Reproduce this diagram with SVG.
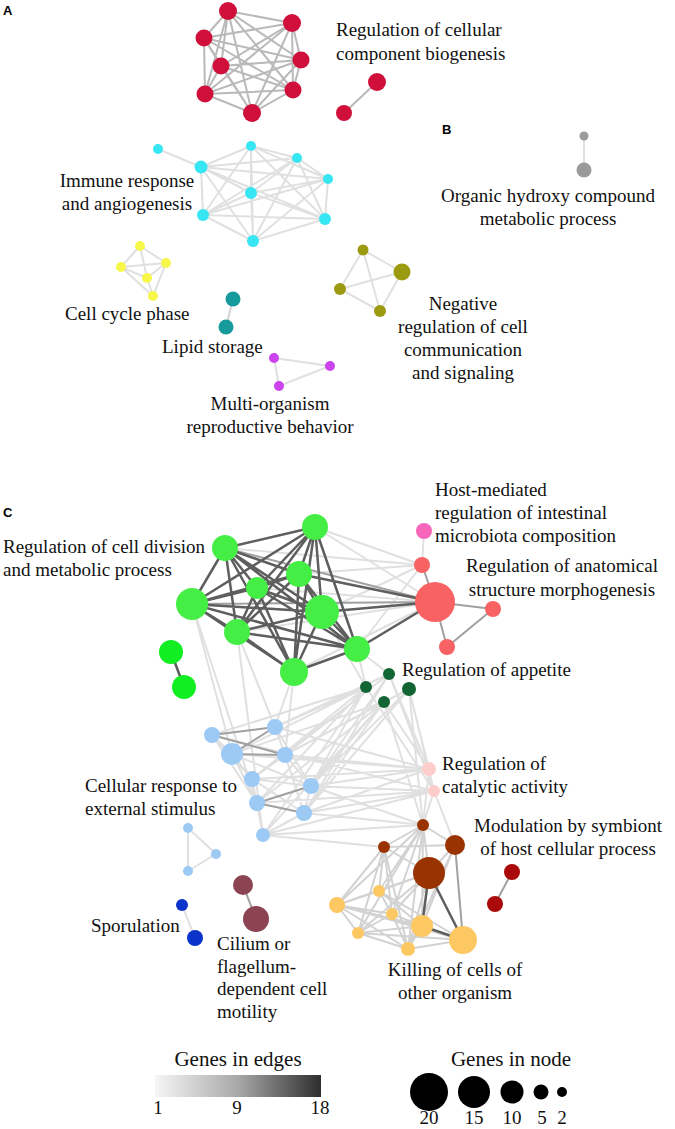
<svg xmlns="http://www.w3.org/2000/svg" width="675" height="1129" viewBox="0 0 675 1129">
<defs>
<linearGradient id="edgeGrad" x1="0" y1="0" x2="1" y2="0">
<stop offset="0" stop-color="#f6f6f6"/>
<stop offset="0.5" stop-color="#a8a8a8"/>
<stop offset="1" stop-color="#2e2e2e"/>
</linearGradient>
</defs>
<style>
.ea{stroke:#b9b9b9;stroke-width:2;fill:none}
.e1{stroke:#e0e0e0;stroke-width:2;fill:none}
.e1b{stroke:#d2d2d2;stroke-width:2;fill:none}
.e2{stroke:#a0a0a0;stroke-width:2;fill:none}
.e3{stroke:#5e5e5e;stroke-width:2.5;fill:none}
.t{font-family:"Liberation Serif","Times New Roman",serif;font-size:19px;fill:#111}
.tl{font-family:"Liberation Serif","Times New Roman",serif;font-size:21px;fill:#111}
.p{font-family:"Liberation Sans",Arial,sans-serif;font-size:13px;font-weight:bold;fill:#000}
.red{fill:#d0103a}.cyan{fill:#36e6f2}.yel{fill:#f7f74a}.teal{fill:#179a9c}.olive{fill:#9c9a10}.purp{fill:#cc44ee}.gry{fill:#9a9a9a}
.grn{fill:#44ee44}.grn2{fill:#11ee22}.pink{fill:#f766bb}.sal{fill:#f86262}.dgrn{fill:#116633}.lblu{fill:#9ccaf5}.lpink{fill:#ffcccc}
.brn{fill:#993300}.dred{fill:#aa0a0a}.ora{fill:#fdc862}.mar{fill:#8c4452}.blu{fill:#0a33cc}.blk{fill:#000}
</style>
<rect width="675" height="1129" fill="#fff"/>

<g id="connectors">
<!-- Panel A red cluster (complete) -->
<path class="ea" d="M228 11L292 23M228 11L204 38M228 11L221 66M228 11L301 60M228 11L205 94M228 11L293 90M228 11L252 113M292 23L204 38M292 23L221 66M292 23L301 60M292 23L205 94M292 23L293 90M292 23L252 113M204 38L221 66M204 38L301 60M204 38L205 94M204 38L293 90M204 38L252 113M221 66L301 60M221 66L205 94M221 66L293 90M221 66L252 113M301 60L205 94M301 60L293 90M301 60L252 113M205 94L293 90M205 94L252 113M293 90L252 113"/>
<path class="ea" d="M377 82L344 113"/>
<!-- cyan -->
<path class="e1" d="M158 149L201 167M201 167L251 146M201 167L297 158M201 167L328 179M201 167L251 193M201 167L203 215M201 167L325 219M201 167L253 241M251 146L297 158M251 146L328 179M251 146L251 193M251 146L203 215M251 146L325 219M251 146L253 241M297 158L328 179M297 158L251 193M297 158L203 215M297 158L325 219M297 158L253 241M328 179L251 193M328 179L203 215M328 179L325 219M328 179L253 241M251 193L203 215M251 193L325 219M251 193L253 241M203 215L325 219M203 215L253 241M325 219L253 241"/>
<!-- yellow -->
<path class="e1" d="M140 246L121 267M140 246L166 263M140 246L147 278M121 267L166 263M121 267L147 278M166 263L147 278M121 267L153 296M147 278L153 296M166 263L153 296"/>
<!-- teal -->
<path class="e1b" d="M233 299L226 327"/>
<!-- olive -->
<path class="e1" d="M363 250L402 272M363 250L340 289M363 250L380 311M340 289L402 272M340 289L380 311M402 272L380 311"/>
<!-- purple -->
<path class="e1" d="M274 358L330 366M274 358L279 386M279 386L330 366"/>
<!-- B gray -->
<path class="e1" d="M584 136L584 170"/>

<!-- Panel C: light edges (blue / appetite / catalytic / green links) -->
<path class="e1" d="M192 604L232 754M192 604L257 803M237 632L275 727M237 632L263 835M294 672L275 727M294 672L285 755M357 649L366 687M357 649L389 674M322 612L366 687
M212 735L366 687M275 727L389 674M275 727L366 687M232 754L366 687M232 754L384 702M285 755L389 674M285 755L384 702M285 755L409 689M252 779L366 687M252 779L389 674M311 786L389 674M311 786L366 687M311 786L384 702M311 786L409 689M257 803L384 702M257 803L366 687M304 813L389 674M304 813L384 702M304 813L409 689M263 835L366 687M263 835L384 702
M285 755L429 769M311 786L429 769M311 786L434 791M304 813L429 769M304 813L434 791M252 779L429 769M257 803L434 791M263 835L434 791M232 754L429 769M275 727L429 769M212 735L434 791
M263 835L423 825M304 813L423 825M263 835L384 847M311 786L423 825
M389 674L429 769M409 689L429 769M409 689L434 791M384 702L429 769M366 687L434 791M389 674L434 791M384 702L423 825M409 689L423 825
M434 791L423 825M429 769L423 825M434 791L455 845
M212 735L232 754M275 727L285 755M232 754L252 779M252 779L257 803M252 779L311 786M252 779L304 813M311 786L304 813M257 803L263 835M252 779L263 835M304 813L263 835M232 754L311 786M285 755L311 786M212 735L252 779M285 755L252 779M232 754L257 803M212 735L257 803M275 727L311 786M285 755L304 813
M315 527L422 565M225 548L422 565M299 574L422 565M322 612L422 565M357 649L422 565M237 632L435 602M294 672L435 602M257 588L435 602M315 527L435 602
M188 828L216 854M216 854L188 871M188 828L188 871M182 905L195 938M424 531L422 565"/>
<!-- brown / yellow cluster -->
<path class="e1b" d="M423 825L384 847M423 825L455 845M423 825L429 873M423 825L379 891M423 825L337 905M423 825L392 914M423 825L358 933M423 825L422 926M423 825L408 949M384 847L429 873M384 847L379 891M384 847L337 905M384 847L392 914M384 847L358 933M384 847L408 949M384 847L455 845M455 845L429 873M455 845L422 926M455 845L408 949M429 873L379 891M429 873L337 905M429 873L392 914M429 873L358 933M429 873L408 949M379 891L337 905M379 891L392 914M379 891L422 926M379 891L463 940M337 905L392 914M337 905L422 926M337 905L358 933M337 905L408 949M337 905L463 940M392 914L422 926M392 914L358 933M392 914L408 949M422 926L358 933M422 926L408 949M358 933L408 949M463 940L408 949M358 933L463 940"/>
<!-- mid -->
<path class="e2" d="M422 565L435 602M435 602L493 609M435 602L447 647M493 609L447 647M225 548L435 602M192 604L435 602
M212 735L275 727M212 735L285 755M232 754L275 727M232 754L285 755M257 803L311 786M257 803L304 813
M455 845L463 940M512 872L495 904M243 885L256 919"/>
<!-- dark -->
<path class="e3" d="M315 527L225 548M315 527L299 574M315 527L257 588M315 527L192 604M315 527L322 612M315 527L237 632M315 527L357 649M315 527L294 672M225 548L299 574M225 548L257 588M225 548L192 604M225 548L322 612M225 548L237 632M225 548L357 649M225 548L294 672M299 574L257 588M299 574L192 604M299 574L322 612M299 574L237 632M299 574L357 649M299 574L294 672M257 588L192 604M257 588L322 612M257 588L237 632M257 588L357 649M257 588L294 672M192 604L322 612M192 604L237 632M192 604L357 649M192 604L294 672M322 612L237 632M322 612L357 649M322 612L294 672M237 632L357 649M237 632L294 672M357 649L294 672
M299 574L435 602M322 612L435 602M357 649L435 602M171 652L184 687
M429 873L422 926M429 873L463 940M422 926L463 940"/>
</g>

<g id="nodes-A">
<g id="n-red"><circle class="red" cx="228" cy="11" r="9"/><circle class="red" cx="292" cy="23" r="9"/><circle class="red" cx="204" cy="38" r="8.5"/><circle class="red" cx="221" cy="66" r="8.5"/><circle class="red" cx="301" cy="60" r="8.5"/><circle class="red" cx="205" cy="94" r="8.5"/><circle class="red" cx="293" cy="90" r="8.5"/><circle class="red" cx="252" cy="113" r="9"/></g>
<g id="n-red-pair"><circle class="red" cx="377" cy="82" r="9"/><circle class="red" cx="344" cy="113" r="8"/></g>
<g id="n-cyan"><circle class="cyan" cx="158" cy="149" r="5"/><circle class="cyan" cx="201" cy="167" r="6.5"/><circle class="cyan" cx="251" cy="146" r="5"/><circle class="cyan" cx="297" cy="158" r="5"/><circle class="cyan" cx="328" cy="179" r="5"/><circle class="cyan" cx="251" cy="193" r="6"/><circle class="cyan" cx="203" cy="215" r="6"/><circle class="cyan" cx="325" cy="219" r="6"/><circle class="cyan" cx="253" cy="241" r="6"/></g>
<g id="n-yellow"><circle class="yel" cx="140" cy="246" r="5"/><circle class="yel" cx="121" cy="267" r="5"/><circle class="yel" cx="166" cy="263" r="5"/><circle class="yel" cx="147" cy="278" r="5"/><circle class="yel" cx="153" cy="296" r="5"/></g>
<g id="n-teal"><circle class="teal" cx="233" cy="299" r="7.5"/><circle class="teal" cx="226" cy="327" r="7.5"/></g>
<g id="n-olive"><circle class="olive" cx="363" cy="250" r="5.5"/><circle class="olive" cx="402" cy="272" r="8.5"/><circle class="olive" cx="340" cy="289" r="6"/><circle class="olive" cx="380" cy="311" r="6"/></g>
<g id="n-purple"><circle class="purp" cx="274" cy="358" r="5"/><circle class="purp" cx="330" cy="366" r="5"/><circle class="purp" cx="279" cy="386" r="5"/></g>
<g id="n-gray"><circle class="gry" cx="584" cy="136" r="4.5"/><circle class="gry" cx="584" cy="170" r="7.5"/></g>
</g>

<g id="nodes-C">
<g id="n-green"><circle class="grn" cx="315" cy="527" r="13"/><circle class="grn" cx="225" cy="548" r="13"/><circle class="grn" cx="299" cy="574" r="13"/><circle class="grn" cx="257" cy="588" r="11"/><circle class="grn" cx="192" cy="604" r="16"/><circle class="grn" cx="322" cy="612" r="17"/><circle class="grn" cx="237" cy="632" r="13"/><circle class="grn" cx="357" cy="649" r="13"/><circle class="grn" cx="294" cy="672" r="14"/></g>
<g id="n-green-pair"><circle class="grn2" cx="171" cy="652" r="12"/><circle class="grn2" cx="184" cy="687" r="12"/></g>
<g id="n-host"><circle class="pink" cx="424" cy="531" r="8"/></g>
<g id="n-salmon"><circle class="sal" cx="422" cy="565" r="8"/><circle class="sal" cx="435" cy="602" r="20"/><circle class="sal" cx="493" cy="609" r="8"/><circle class="sal" cx="447" cy="647" r="8"/></g>
<g id="n-appetite"><circle class="dgrn" cx="389" cy="674" r="6"/><circle class="dgrn" cx="366" cy="687" r="6"/><circle class="dgrn" cx="409" cy="689" r="7"/><circle class="dgrn" cx="384" cy="702" r="6"/></g>
<g id="n-lblue"><circle class="lblu" cx="212" cy="735" r="8"/><circle class="lblu" cx="275" cy="727" r="8"/><circle class="lblu" cx="232" cy="754" r="11"/><circle class="lblu" cx="285" cy="755" r="8"/><circle class="lblu" cx="252" cy="779" r="8"/><circle class="lblu" cx="311" cy="786" r="8"/><circle class="lblu" cx="257" cy="803" r="8"/><circle class="lblu" cx="304" cy="813" r="8"/><circle class="lblu" cx="263" cy="835" r="7"/></g>
<g id="n-lblue-small"><circle class="lblu" cx="188" cy="828" r="5"/><circle class="lblu" cx="216" cy="854" r="5"/><circle class="lblu" cx="188" cy="871" r="5"/></g>
<g id="n-catalytic"><circle class="lpink" cx="429" cy="769" r="7"/><circle class="lpink" cx="434" cy="791" r="6"/></g>
<g id="n-brown"><circle class="brn" cx="423" cy="825" r="6"/><circle class="brn" cx="384" cy="847" r="6"/><circle class="brn" cx="455" cy="845" r="10"/><circle class="brn" cx="429" cy="873" r="16"/></g>
<g id="n-symbiont"><circle class="dred" cx="512" cy="872" r="8"/><circle class="dred" cx="495" cy="904" r="8"/></g>
<g id="n-killing"><circle class="ora" cx="379" cy="891" r="6"/><circle class="ora" cx="337" cy="905" r="8"/><circle class="ora" cx="392" cy="914" r="6"/><circle class="ora" cx="422" cy="926" r="11"/><circle class="ora" cx="358" cy="933" r="6"/><circle class="ora" cx="463" cy="940" r="14"/><circle class="ora" cx="408" cy="949" r="7"/></g>
<g id="n-cilium"><circle class="mar" cx="243" cy="885" r="10"/><circle class="mar" cx="256" cy="919" r="13"/></g>
<g id="n-sporulation"><circle class="blu" cx="182" cy="905" r="6"/><circle class="blu" cx="195" cy="938" r="8"/></g>
</g>

<g id="labels">
<text class="p" x="3" y="15">A</text>
<text class="p" x="442" y="134">B</text>
<text class="p" x="3" y="517">C</text>
<text class="t" x="336" y="36">Regulation of cellular</text>
<text class="t" x="336" y="60">component biogenesis</text>
<text class="t" x="127" y="187" text-anchor="middle">Immune response</text>
<text class="t" x="127" y="210" text-anchor="middle">and angiogenesis</text>
<text class="t" x="548" y="202" text-anchor="middle">Organic hydroxy compound</text>
<text class="t" x="548" y="225" text-anchor="middle">metabolic process</text>
<text class="t" x="65" y="320">Cell cycle phase</text>
<text class="t" x="162" y="353">Lipid storage</text>
<text class="t" x="270" y="410" text-anchor="middle">Multi-organism</text>
<text class="t" x="270" y="433" text-anchor="middle">reproductive behavior</text>
<text class="t" x="463" y="310" text-anchor="middle">Negative</text>
<text class="t" x="463" y="333" text-anchor="middle">regulation of cell</text>
<text class="t" x="463" y="356" text-anchor="middle">communication</text>
<text class="t" x="463" y="379" text-anchor="middle">and signaling</text>
<text class="t" x="3" y="553">Regulation of cell division</text>
<text class="t" x="3" y="576">and metabolic process</text>
<text class="t" x="435" y="496">Host-mediated</text>
<text class="t" x="435" y="519">regulation of intestinal</text>
<text class="t" x="435" y="542">microbiota composition</text>
<text class="t" x="562" y="572" text-anchor="middle">Regulation of anatomical</text>
<text class="t" x="562" y="596" text-anchor="middle">structure morphogenesis</text>
<text class="t" x="402" y="676">Regulation of appetite</text>
<text class="t" x="442" y="770">Regulation of</text>
<text class="t" x="442" y="793">catalytic activity</text>
<text class="t" x="85" y="792">Cellular response to</text>
<text class="t" x="85" y="815">external stimulus</text>
<text class="t" x="568" y="832" text-anchor="middle">Modulation by symbiont</text>
<text class="t" x="568" y="855" text-anchor="middle">of host cellular process</text>
<text class="t" x="91" y="932">Sporulation</text>
<text class="t" x="217" y="950">Cilium or</text>
<text class="t" x="217" y="973">flagellum-</text>
<text class="t" x="217" y="995">dependent cell</text>
<text class="t" x="217" y="1018">motility</text>
<text class="t" x="455" y="976" text-anchor="middle">Killing of cells of</text>
<text class="t" x="455" y="999" text-anchor="middle">other organism</text>
</g>

<g id="legend-edges">
<text class="tl" x="238" y="1066" text-anchor="middle">Genes in edges</text>
<rect x="155" y="1075" width="166" height="22" fill="url(#edgeGrad)"/>
<text class="t" x="158" y="1114" text-anchor="middle">1</text>
<text class="t" x="237" y="1114" text-anchor="middle">9</text>
<text class="t" x="320" y="1114" text-anchor="middle">18</text>
</g>
<g id="legend-nodes">
<text class="tl" x="511" y="1066" text-anchor="middle">Genes in node</text>
<circle class="blk" cx="429" cy="1092" r="19"/>
<circle class="blk" cx="474" cy="1092" r="16"/>
<circle class="blk" cx="512" cy="1092" r="11.5"/>
<circle class="blk" cx="541" cy="1092" r="7.5"/>
<circle class="blk" cx="562" cy="1092" r="5"/>
<text class="t" x="429" y="1124" text-anchor="middle">20</text>
<text class="t" x="474" y="1124" text-anchor="middle">15</text>
<text class="t" x="512" y="1124" text-anchor="middle">10</text>
<text class="t" x="542" y="1124" text-anchor="middle">5</text>
<text class="t" x="562" y="1124" text-anchor="middle">2</text>
</g>
</svg>
